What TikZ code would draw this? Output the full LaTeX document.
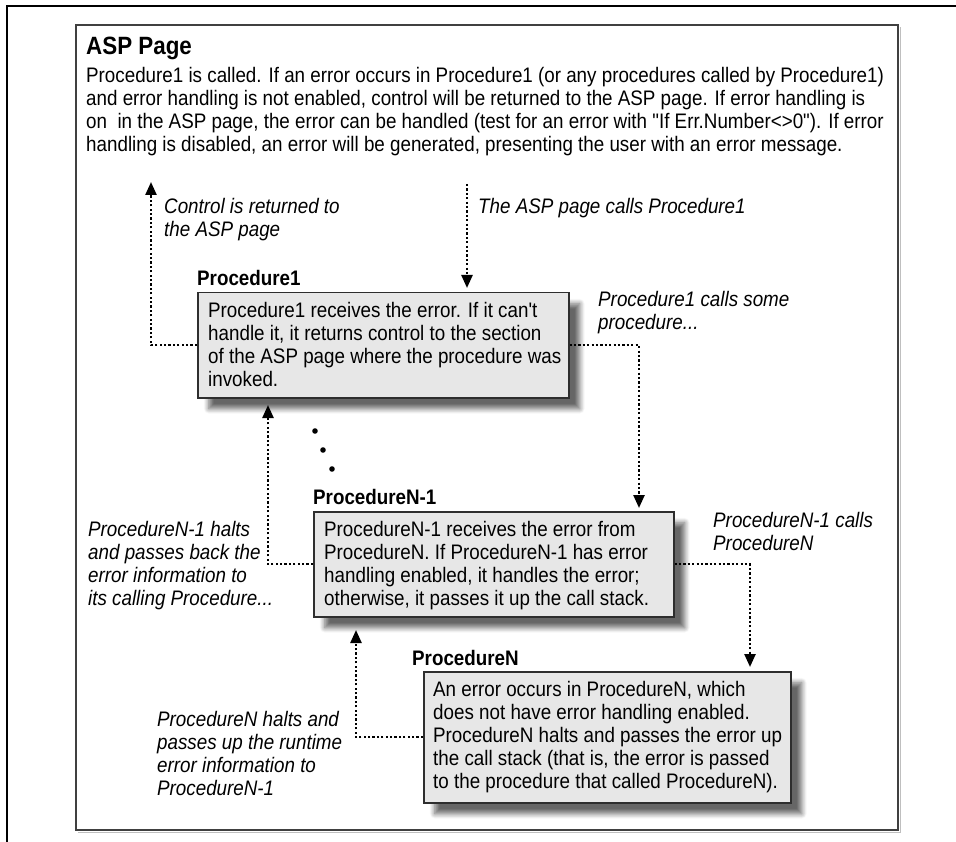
\documentclass[tikz,border=0pt]{standalone}
\usepackage{fontspec}
% no TeX ligature mapping, so quotes and apostrophes stay straight
\newfontfamily\figfont{Liberation Sans}[FakeStretch=0.895]
\usetikzlibrary{arrows.meta,shadows.blur}

\definecolor{boxfill}{gray}{0.905}
\definecolor{boxline}{gray}{0.18}
\definecolor{frameline}{gray}{0.25}

% multi-line texts are placed by the baseline of their last line
\tikzset{
  txt/.style={inner sep=0pt, anchor=base west, align=left,
    font=\figfont\fontsize{21}{23}\selectfont},
  note/.style={txt, font=\figfont\fontsize{21}{23}\selectfont\itshape},
  label/.style={txt, font=\figfont\fontsize{21}{23}\selectfont\bfseries},
  procbox/.style={draw=boxline, fill=boxfill, line width=1.5pt, inner sep=0pt,
    anchor=north west,
    blur shadow={shadow xshift=11pt, shadow yshift=-11pt,
      shadow blur radius=5pt, shadow blur steps=8, shadow opacity=60}},
  flow/.style={line width=2.4pt, dash pattern=on 2.2pt off 2.2pt,
    -{Triangle[length=13pt,width=11pt]}},
}

\begin{document}
\begin{tikzpicture}[x=1pt,y=-1pt]
\useasboundingbox (0,0) rectangle (956,842);

% page frame
\draw[line width=1.6pt] (7,842) -- (7,6) -- (956,6);
\draw[gray!50, line width=1pt] (78,832) -- (900,832) -- (900,27);
\draw[frameline, line width=1.3pt] (76,25) rectangle (898,830);

% heading and description of the ASP page
\node[txt, font=\figfont\fontsize{25}{27}\selectfont\bfseries] (title) at (86,55) {ASP Page};
\node[txt] (intro) at (86,152) {Procedure1 is called. If an error occurs in Procedure1 (or any procedures called by Procedure1)\\
and error handling is not enabled, control will be returned to the ASP page. If error handling is\\
on\ \ in the ASP page, the error can be handled (test for an error with "If Err.Number<>0"). If error\\
handling is disabled, an error will be generated, presenting the user with an error message.};

% procedure boxes
\node[procbox, minimum width=371pt, minimum height=105pt] (p1) at (197,292) {};
\node[procbox, minimum width=360pt, minimum height=105pt] (pN1) at (313,511) {};
\node[procbox, minimum width=367pt, minimum height=131pt] (pN) at (423,671) {};

\node[label] (p1lab) at (197,286) {Procedure1};
\node[label] (pN1lab) at (313,504) {ProcedureN-1};
\node[label] (pNlab) at (412,665) {ProcedureN};

\node[txt] (p1txt) at (208,386) {Procedure1 receives the error. If it can't\\
handle it, it returns control to the section\\
of the ASP page where the procedure was\\
invoked.};
\node[txt] (pN1txt) at (324,605) {ProcedureN-1 receives the error from\\
ProcedureN. If ProcedureN-1 has error\\
handling enabled, it handles the error;\\
otherwise, it passes it up the call stack.};
\node[txt] (pNtxt) at (433,788) {An error occurs in ProcedureN, which\\
does not have error handling enabled.\\
ProcedureN halts and passes the error up\\
the call stack (that is, the error is passed\\
to the procedure that called ProcedureN).};

% connector labels
\node[note] (nret) at (164,237) {Control is returned to\\the ASP page};
\node[note] (ncall) at (478,214) {The ASP page calls Procedure1};
\node[note] (ncall1) at (598,330) {Procedure1 calls some\\procedure...};
\node[note] (ncallN) at (713,550) {ProcedureN-1 calls\\ProcedureN};
\node[note] (nhalt1) at (88,605) {ProcedureN-1 halts\\and passes back the\\error information to\\its calling Procedure...};
\node[note] (nhaltN) at (157,795) {ProcedureN halts and\\passes up the runtime\\error information to\\ProcedureN-1};

% connector end points
\coordinate (ret) at (151,182);
\coordinate (start) at (467,184);
\coordinate (down1) at (639,0);
\coordinate (down2) at (750,0);
\coordinate (up1) at (268,405);
\coordinate (up2) at (356,630);

% connectors
\draw[flow] (p1.west) -| (ret);
\draw[flow, shorten >=4pt] (start) -- (start |- p1.north);
\draw[flow, shorten >=3pt] (p1.east) -| (down1 |- pN1.north);
\draw[flow] (pN1.west) -| (up1);
\draw[flow, shorten >=4pt] (pN1.east) -| (down2 |- pN.north);
\draw[flow] (pN.west) -| (up2);

% ellipsis of intermediate procedures
\fill (315,431) circle (2.8pt);
\fill (323,450) circle (2.8pt);
\fill (332,469) circle (2.8pt);
\end{tikzpicture}
\end{document}
